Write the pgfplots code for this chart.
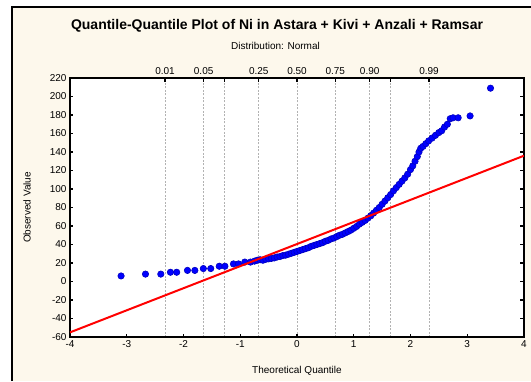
\documentclass[border=0pt]{standalone}
\usepackage{fontspec}
\setmainfont{Liberation Sans}
\usepackage{pgfplots}
\pgfplotsset{compat=1.18}
\definecolor{cream}{RGB}{253,248,236}
\definecolor{ptblue}{RGB}{0,0,255}

\pgfplotsset{qq/.style={
    width=454pt, height=259pt, scale only axis,
    xmin=-4, xmax=4, ymin=-60, ymax=220,
    /pgf/number format/assume math mode=true,
    tick label style={font=\fontsize{10}{12}\selectfont, black},
    tick align=inside, major tick length=3.5pt,
    tick style={line width=1.4pt, black},
}}

\begin{document}
\begin{tikzpicture}
% page background and outer frame
\fill[white] (-70pt,-44pt) rectangle (461pt,337pt);
\fill[cream] (-58pt,-44pt) rectangle (461pt,330pt);
\draw[black, line width=1.8pt] (-58pt,-44pt) -- (-58pt,330pt) -- (461pt,330pt);

% probability scale on top, with its grid
\begin{axis}[qq,
    axis background/.style={fill=white},
    axis x line*=top, axis y line=none,
    xtick={-2.326,-1.645,-1.2816,-0.674,0,0.674,1.2816,1.645,2.326},
    xticklabels={0.01,0.05,,0.25,0.50,0.75,0.90,,0.99},
    xmajorgrids,
    grid style={gray!60, line width=0.5pt, dash pattern=on 2pt off 1.5pt},
    axis line style={line width=1.6pt},
  ]
\end{axis}

\begin{axis}[qq,
    clip mode=individual,
    xtick={-4,-3,...,4}, ytick={-60,-40,...,220},
    xtick pos=left, ytick pos=both,
    axis line style={line width=1.6pt},
  ]
  \addplot[only marks, mark=*, mark size=3.2pt, color=ptblue,
    mark options={fill=ptblue, draw=ptblue!75!black, line width=0.6pt}]
    table {
    z v
    -3.10 6
    -2.67 8
    -2.40 8
    -2.23 10
    -2.12 10
    -1.93 12
    -1.80 12
    -1.65 14
    -1.52 14
    -1.37 16.5
    -1.27 16.5
    -1.12 19
    -1.03 19
    -0.92 21
    -0.82 21
    -0.75 22
    -0.70 23
    -0.65 23.5
    -0.60 23
    -0.55 24
    -0.50 24.5
    -0.45 25
    -0.40 25.5
    -0.35 26.5
    -0.30 27
    -0.25 28
    -0.20 28.5
    -0.15 29.5
    -0.10 30.5
    -0.05 31.5
    0.00 32.5
    0.05 33.5
    0.10 34.5
    0.15 35.5
    0.20 36.5
    0.25 38
    0.30 39
    0.35 40
    0.40 41
    0.45 42
    0.50 43.5
    0.55 44.5
    0.60 46
    0.65 47
    0.70 48.5
    0.75 50
    0.80 51
    0.85 52.5
    0.90 54
    0.95 55.5
    1.00 57.5
    1.05 59.5
    1.10 62
    1.15 64
    1.20 66
    1.25 68.5
    1.30 71
    1.35 74
    1.40 77
    1.45 80
    1.50 83.5
    1.55 87
    1.60 90.5
    1.65 94
    1.70 98
    1.75 101.5
    1.80 105
    1.85 108.5
    1.90 112
    1.95 116
    2.00 121
    2.04 125
    2.08 130
    2.12 135
    2.15 140
    2.18 144
    2.22 146
    2.27 149
    2.32 152
    2.38 155
    2.44 158
    2.50 161
    2.55 163
    2.60 167
    2.65 170
    2.70 176
    2.75 177
    2.84 177
    3.05 179
    3.41 209
    };
  \addplot[red, line width=2pt] coordinates {(-4,-55) (4,136)};

  \node[font=\fontsize{14}{16}\selectfont\bfseries] at (axis description cs:0.456,1.203) {Quantile-Quantile Plot of Ni in Astara + Kivi + Anzali + Ramsar};
  \node[font=\fontsize{10}{12}\selectfont] at (axis description cs:0.4526,1.122) {Distribution: Normal};
  \node[font=\fontsize{10}{12}\selectfont] at (axis description cs:0.5,-0.131) {Theoretical Quantile};
  \node[font=\fontsize{10}{12}\selectfont, rotate=90] at (axis description cs:-0.0947,0.5) {Observed Value};
\end{axis}

\pgfresetboundingbox
\path[use as bounding box] (-70pt,-44pt) rectangle (461pt,337pt);
\end{tikzpicture}
\end{document}
